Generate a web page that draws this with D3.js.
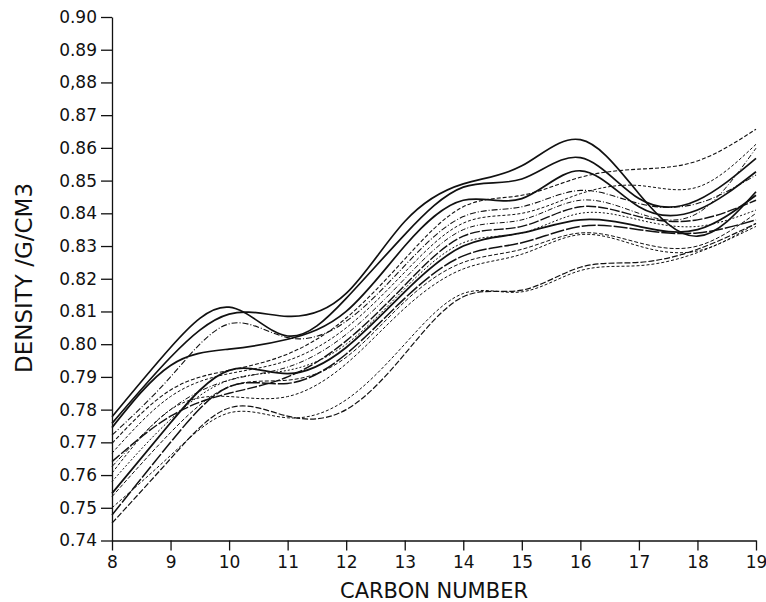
<!DOCTYPE html>
<html><head><meta charset="utf-8">
<script src="https://cdn.jsdelivr.net/npm/d3@7"></script>
<style>
html,body{margin:0;padding:0;background:#fff;}
svg{display:block;}
text{font-family:"DejaVu Sans","Liberation Sans",sans-serif;fill:#111;}
</style></head>
<body>
<svg id="chart" width="766" height="602"></svg>
<script>
// ---- data ----
const carbonNumbers = [8, 9, 10, 11, 12, 13, 14, 15, 16, 17, 18, 19];
const xTickLabels = ["8","9","10","11","12","13","14","15","16","17","18","19"];
const yTickValues = [0.74,0.75,0.76,0.77,0.78,0.79,0.80,0.81,0.82,0.83,0.84,0.85,0.86,0.87,0.88,0.89,0.90];
const yTickLabels = ["0.74","0.75","0.76","0.77","0.78","0.79","0.80","0.81","0.82","0.83","0.84","0.85","0.86","0.87","0,88","0.89","0.90"];

const sTop    = [0.7758,0.7960,0.8092,0.8085,0.8155,0.8375,0.8490,0.8545,0.8625,0.8460,0.8330,0.8466];
const sPeak10 = [0.7778,0.7990,0.8113,0.8025,0.8140,0.8335,0.8480,0.8505,0.8570,0.8445,0.8440,0.8568];
const sThird  = [0.7745,0.7935,0.7985,0.8015,0.8100,0.8300,0.8440,0.8445,0.8530,0.8420,0.8410,0.8527];
const dA      = [0.7697,0.7860,0.7920,0.7970,0.8080,0.8260,0.8420,0.8455,0.8510,0.8535,0.8560,0.8657];
const dThin   = [0.7722,0.7900,0.8062,0.8020,0.8070,0.8240,0.8390,0.8420,0.8470,0.8430,0.8430,0.8517];
const dB      = [0.7667,0.7840,0.7910,0.7950,0.8050,0.8220,0.8370,0.8400,0.8460,0.8485,0.8480,0.8611];
const dC      = [0.7626,0.7800,0.7890,0.7930,0.8030,0.8200,0.8350,0.8380,0.8440,0.8400,0.8400,0.8599];
const s5      = [0.7641,0.7780,0.7850,0.7900,0.8010,0.8180,0.8330,0.8360,0.8420,0.8390,0.8380,0.8440];
const dF      = [0.7580,0.7770,0.7890,0.7920,0.8000,0.8170,0.8310,0.8340,0.8400,0.8380,0.8360,0.8410];
const s6      = [0.7544,0.7760,0.7920,0.7910,0.7990,0.8160,0.8300,0.8340,0.8380,0.8360,0.8350,0.8455];
const s7      = [0.7478,0.7700,0.7870,0.7880,0.7970,0.8140,0.8270,0.8310,0.8360,0.8350,0.8340,0.8380];
const dE      = [0.7534,0.7730,0.7870,0.7890,0.7960,0.8130,0.8250,0.8290,0.8340,0.8310,0.8300,0.8400];
const dG      = [0.7606,0.7800,0.7840,0.7840,0.7940,0.8110,0.8230,0.8275,0.8335,0.8300,0.8285,0.8369];
const b1      = [0.7453,0.7650,0.7805,0.7780,0.7800,0.7970,0.8145,0.8165,0.8235,0.8250,0.8290,0.8369];
const b2      = [0.7500,0.7660,0.7790,0.7775,0.7830,0.8000,0.8155,0.8160,0.8225,0.8240,0.8280,0.8360];

const seriesList = [
  {name:"sTop", values:sTop},
  {name:"sPeak10", values:sPeak10},
  {name:"sThird", values:sThird},
  {name:"dA", values:dA},
  {name:"dThin", values:dThin},
  {name:"dB", values:dB},
  {name:"dC", values:dC},
  {name:"s5", values:s5},
  {name:"dF", values:dF},
  {name:"s6", values:s6},
  {name:"s7", values:s7},
  {name:"dE", values:dE},
  {name:"dG", values:dG},
  {name:"b1", values:b1},
  {name:"b2", values:b2}
];

// ---- styles (kept apart from data) ----
const lineStyle = {
  sTop:{w:1.7,dash:null}, sPeak10:{w:1.7,dash:null}, sThird:{w:1.7,dash:null},
  s5:{w:1.4,dash:"10,2"}, s6:{w:1.8,dash:null}, s7:{w:1.5,dash:"14,2"},
  dA:{w:1.1,dash:"4,2"}, dThin:{w:1.1,dash:"6,2,1,2"}, dB:{w:1.0,dash:"3,2"},
  dC:{w:1.0,dash:"5,2,1,2"}, dF:{w:1.0,dash:"2,2"}, dE:{w:1.0,dash:"4,2"},
  dG:{w:1.0,dash:"3,2"}, b1:{w:1.2,dash:"6,2"}, b2:{w:1.0,dash:"3,2"}
};

const svg = d3.select("#chart");
const x = d3.scaleLinear().domain([8,19]).range([112,756]);
const y = d3.scaleLinear().domain([0.74,0.90]).range([540.5,17]);

// axes
const yAxis = d3.axisLeft(y).tickValues(yTickValues)
  .tickFormat((d,i)=>yTickLabels[i]).tickSize(11).tickSizeOuter(0).tickPadding(4);
const xAxis = d3.axisBottom(x).tickValues(carbonNumbers)
  .tickFormat((d,i)=>xTickLabels[i]).tickSize(10).tickSizeOuter(0).tickPadding(5);

const gy = svg.append("g").attr("transform","translate(112,0)").call(yAxis);
const gx = svg.append("g").attr("transform","translate(0,540.5)").call(xAxis);
[gx,gy].forEach(g=>{
  g.select(".domain").attr("stroke","#111").attr("stroke-width",1.3);
  g.selectAll(".tick line").attr("stroke","#111").attr("stroke-width",1.3);
  g.selectAll(".tick text").attr("font-size",17).attr("fill","#111")
   .attr("font-family","'DejaVu Sans',sans-serif");
});

// lines
const line = d3.line().x((d,i)=>x(carbonNumbers[i])).y(d=>y(d)).curve(d3.curveNatural);
svg.append("g").selectAll("path").data(seriesList).join("path")
  .attr("d",d=>line(d.values))
  .attr("fill","none")
  .attr("stroke","#111")
  .attr("stroke-width",d=>lineStyle[d.name].w)
  .attr("stroke-dasharray",d=>lineStyle[d.name].dash)
  .attr("stroke-linejoin","round");

// titles
svg.append("text").attr("x",434).attr("y",598).attr("text-anchor","middle")
  .attr("font-size",21).attr("font-family","'Liberation Sans',sans-serif").text("CARBON NUMBER");
svg.append("text").attr("transform","translate(32,278) rotate(-90)").attr("text-anchor","middle")
  .attr("font-size",23).attr("font-family","'Liberation Sans',sans-serif").text("DENSITY /G/CM3");
</script>
</body></html>
